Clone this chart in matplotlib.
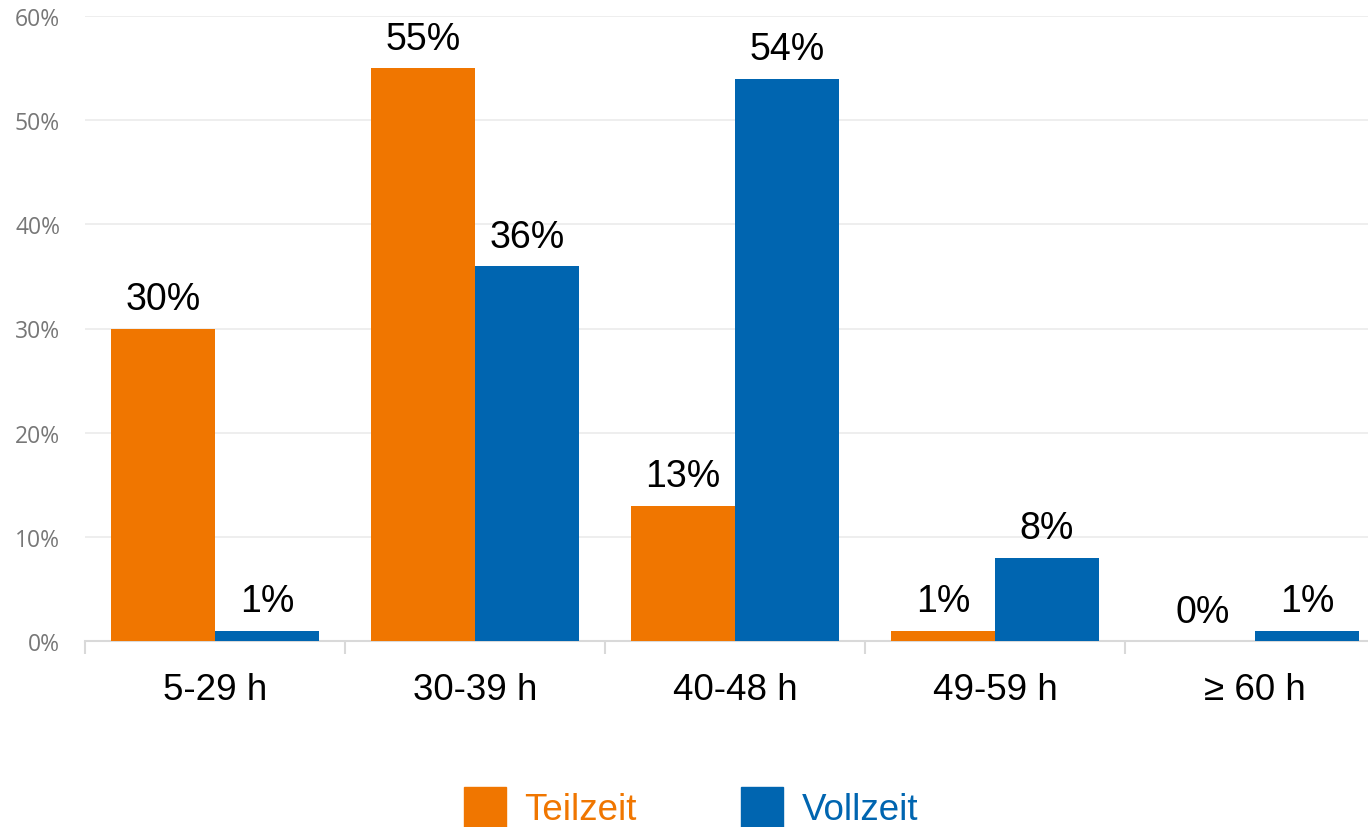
import numpy as np
import matplotlib.pyplot as plt
from matplotlib.patches import Patch

# data
categories = ['5-29 h', '30-39 h', '40-48 h', '49-59 h', '\u2265 60 h']
teilzeit = [30, 55, 13, 1, 0]
vollzeit = [1, 36, 54, 8, 1]
series_names = ['Teilzeit', 'Vollzeit']
yticks = [0, 10, 20, 30, 40, 50, 60]

orange = '#F07600'
blue = '#0065B0'

plt.rcParams['font.family'] = ['Liberation Sans', 'DejaVu Sans']

fig = plt.figure(figsize=(13.68, 8.28), dpi=100)
ax = fig.add_axes([85/1368, 1 - 642/828, 1 - 85/1368, (642 - 17)/828])

x = np.arange(len(categories))
w = 0.4
b1 = ax.bar(x - w/2, teilzeit, w, color=orange, zorder=3)
b2 = ax.bar(x + w/2, vollzeit, w, color=blue, zorder=3)

# value labels above bars
for bars, vals in ((b1, teilzeit), (b2, vollzeit)):
    for r, v in zip(bars, vals):
        ax.annotate('%d%%' % v, (r.get_x() + r.get_width()/2, v),
                    xytext=(0, 14), textcoords='offset points',
                    ha='center', va='baseline', fontsize=27, color='black')

ax.set_xlim(-0.5, (1368 - 85)/260 - 0.5)
ax.set_ylim(0, 60)

# y axis
ax.set_yticks(yticks)
ax.set_yticklabels(['%d%%' % t for t in yticks], family=['Open Sans', 'DejaVu Sans'],
                   fontsize=16.5, color='#777777')
ax.tick_params(axis='y', length=0, pad=18)
ax.grid(axis='y', color='#EBEBEB', linewidth=1.2, zorder=0)

# x axis: boundary ticks + category labels
ax.set_xticks(np.arange(-0.5, len(categories) - 0.5, 1))
ax.set_xticklabels([])
ax.tick_params(axis='x', which='major', length=9, color='#D9D9D9', width=1.5)
ax.set_xticks(x, minor=True)
ax.set_xticklabels(categories, minor=True, fontsize=26.5)
ax.tick_params(axis='x', which='minor', length=0, pad=22)

for s in ('top', 'right', 'left'):
    ax.spines[s].set_visible(False)
ax.spines['bottom'].set_color('#D9D9D9')
ax.spines['bottom'].set_linewidth(1.5)

handles = [Patch(color=orange), Patch(color=blue)]
leg = fig.legend(handles, series_names, loc='center', ncol=2,
                 bbox_to_anchor=(691/1368, (828 - 808)/828), frameon=False,
                 fontsize=26.5, handlelength=1.14, handleheight=1.33,
                 handletextpad=0.5, columnspacing=2.85, borderpad=0)
for t, c in zip(leg.get_texts(), (orange, blue)):
    t.set_color(c)

fig.savefig('out.png', dpi=100)
